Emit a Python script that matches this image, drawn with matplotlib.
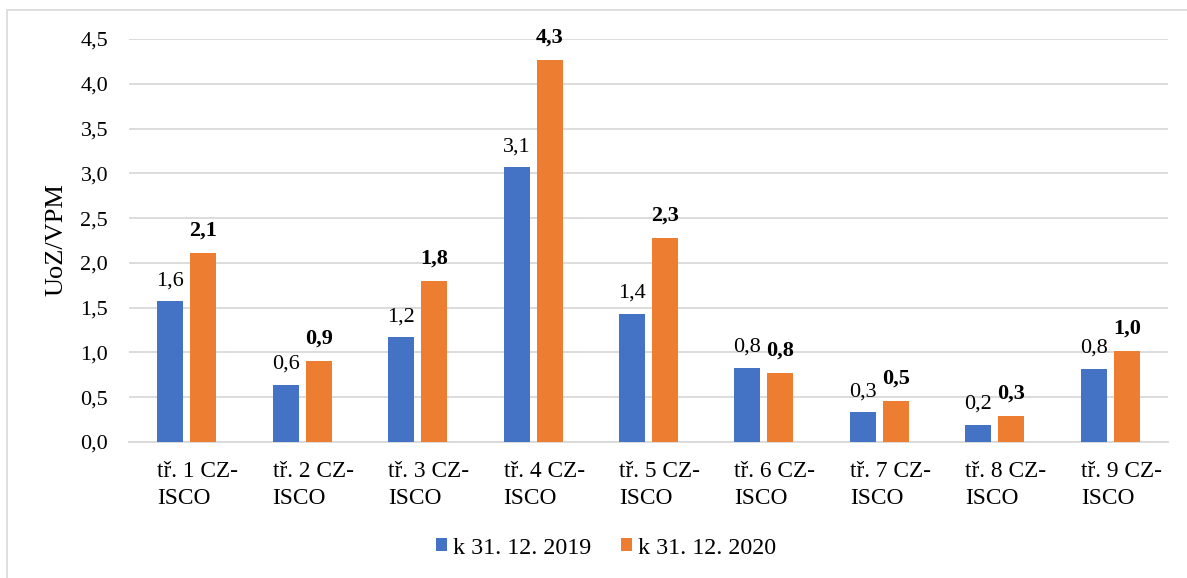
import matplotlib
matplotlib.use("Agg")
import matplotlib.pyplot as plt
from matplotlib.patches import Rectangle
import numpy as np

categories = [f"tř. {i} CZ-\nISCO" for i in range(1, 10)]
series_names = ["k 31. 12. 2019", "k 31. 12. 2020"]
values_2019 = [1.57, 0.64, 1.17, 3.07, 1.43, 0.83, 0.33, 0.19, 0.82]
values_2020 = [2.11, 0.90, 1.80, 4.27, 2.28, 0.77, 0.46, 0.29, 1.02]
y_ticks = [0.0, 0.5, 1.0, 1.5, 2.0, 2.5, 3.0, 3.5, 4.0, 4.5]
y_label = "UoZ/VPM"

BLUE = "#4472C4"
ORANGE = "#ED7D31"
GRID = "#D9D9D9"
FONT = ["Liberation Serif", "DejaVu Serif"]

plt.rcParams["font.family"] = FONT

W, H, DPI = 1187, 578, 100
PT = 72 / DPI  # points per pixel
fig = plt.figure(figsize=(W / DPI, H / DPI), dpi=DPI)
ax = fig.add_axes([129 / W, 1 - 442 / H, (1168 - 129) / W, (442 - 39) / H])

x = np.arange(len(categories))
bw = 0.225
off = 0.143
b1 = ax.bar(x - off, values_2019, bw, color=BLUE, label=series_names[0], zorder=3)
b2 = ax.bar(x + off, values_2020, bw, color=ORANGE, label=series_names[1], zorder=3)

def fmt(v):
    return f"{v:.1f}".replace(".", ",")

for xi, v in zip(x - off, values_2019):
    ax.annotate(fmt(v), (xi, v), xytext=(0, 16 * PT), textcoords="offset points",
                ha="center", va="baseline", fontsize=16, color="black")
for xi, v in zip(x + off, values_2020):
    ax.annotate(fmt(v), (xi, v), xytext=(0, 17.5 * PT), textcoords="offset points",
                ha="center", va="baseline", fontsize=16, fontweight="bold",
                color="black")

ax.set_xlim(-0.5, len(categories) - 0.5)
ax.set_ylim(0, 4.5)
ax.set_yticks(y_ticks)
ax.set_yticklabels([fmt(t) for t in y_ticks], fontsize=16)
ax.set_xticks(x)
ax.set_xticklabels([])

# category labels: wrapped, left-aligned block under each group
for xi, lab in zip(x, categories):
    ax.annotate(lab, (xi, 0), xytext=(-29.5 * PT, -19 * PT),
                textcoords="offset points", ha="left", va="top",
                multialignment="left", linespacing=1.38, fontsize=16.8,
                annotation_clip=False)

ax.tick_params(axis="both", length=0)
ax.tick_params(axis="y", pad=15)
ax.grid(axis="y", color=GRID, linewidth=1.3, zorder=0)
ax.set_axisbelow(True)
for s in ["top", "right", "left"]:
    ax.spines[s].set_visible(False)
ax.spines["bottom"].set_color(GRID)
ax.spines["bottom"].set_linewidth(1.3)

fig.text(56 / W, 1 - 240 / H, y_label, rotation=90, ha="center", va="center",
         fontsize=19)

fig.legend(handles=[b1, b2], labels=series_names, loc="center",
           bbox_to_anchor=(606 / W, 1 - 548 / H), ncol=2, frameon=False,
           fontsize=17.3, handlelength=0.46, handleheight=0.46,
           handletextpad=0.25, columnspacing=1.25, borderpad=0)

fig.patches.append(Rectangle((7 / W, -0.1), 2, (H - 10) / H + 0.1,
                             transform=fig.transFigure, fill=False,
                             edgecolor=GRID, linewidth=1.2))

fig.savefig("out.png", dpi=DPI, facecolor="white")
